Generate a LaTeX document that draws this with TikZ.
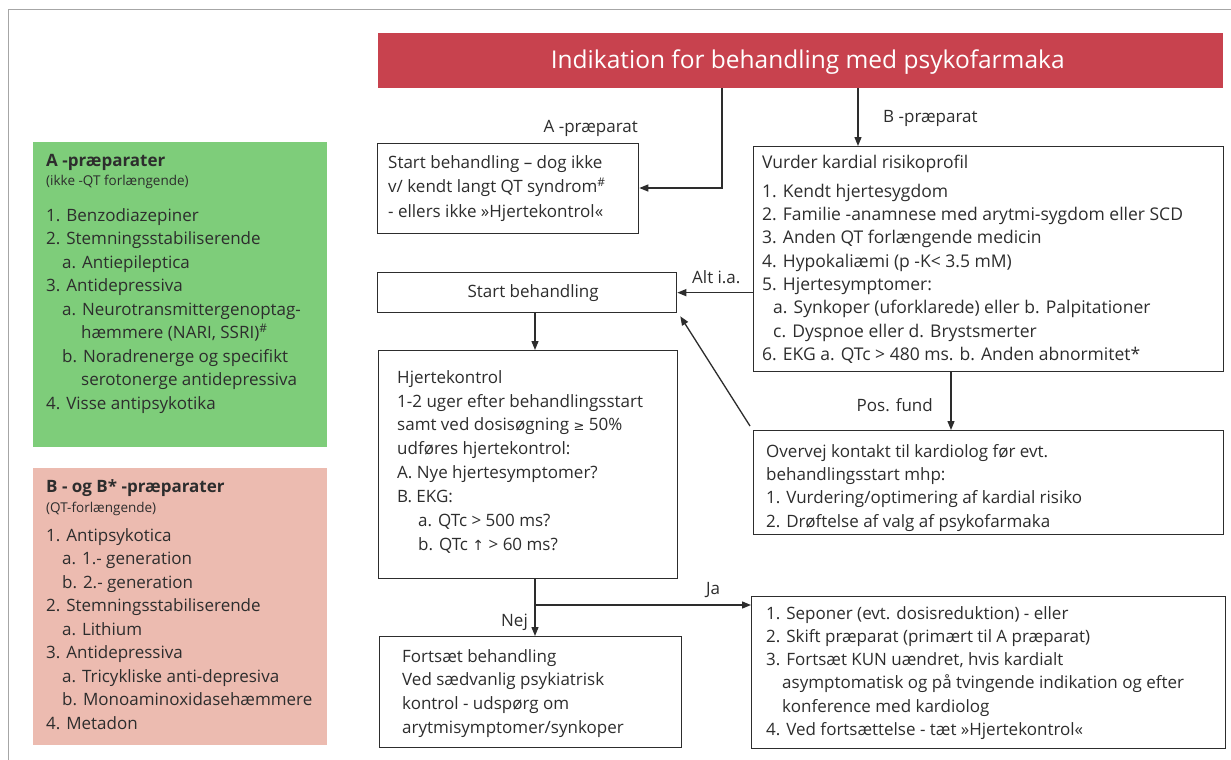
\documentclass[tikz,border=0pt]{standalone}
\usepackage{fontspec}
\setmainfont{Open Sans}
\newfontfamily\symf{DejaVu Sans}
\usetikzlibrary{arrows.meta,calc}
\definecolor{headred}{RGB}{200,66,78}
\definecolor{agreen}{RGB}{126,205,122}
\definecolor{bpink}{RGB}{236,187,176}
\definecolor{ink}{RGB}{45,45,45}
\begin{document}
\begin{tikzpicture}[x=1pt,y=-1pt,
  box/.style={draw=ink, line width=1.3pt, inner sep=0pt, anchor=north west},
  panel/.style={inner sep=0pt, anchor=north west},
  txt/.style={anchor=north west, inner sep=0pt, align=left, text=ink, font=\fontsize{17}{23.4}\selectfont},
  ptxt/.style={anchor=north west, inner sep=0pt, align=left, text=ink, font=\fontsize{17}{23.5}\selectfont},
  arr/.style={draw=ink, line width=1.3pt, -{Triangle[length=9pt,width=7pt]}},
  lbl/.style={inner sep=0pt, text=ink, font=\fontsize{17}{20}\selectfont}]
\useasboundingbox (0,0) rectangle (1231,760);
\fill[white] (0,0) rectangle (1231,760);
\draw[gray!70, line width=1pt] (8,760) -- (8,10) -- (1231,10);

% header
\node[panel, fill=headred, minimum width=845pt, minimum height=55pt] (head) at (378,33) {};
\node[text=white, inner sep=0pt, font=\fontsize{24.5}{28}\selectfont] (title) at ($(head.center)+(7,1)$) {Indikation for behandling med psykofarmaka};

% left panels
\node[panel, fill=agreen, minimum width=294pt, minimum height=305pt] (apanel) at (33,142) {};
\node[ptxt] (apaneltxt) at (46,154) {{\bfseries A -præparater}\\[-4.5pt]
{\fontsize{13.5}{15}\selectfont (ikke -QT forlængende)}\\[12.5pt]
1. Benzodiazepiner\\
2. Stemningsstabiliserende\\
\hspace*{16pt}a. Antiepileptica\\
3. Antidepressiva\\
\hspace*{16pt}a. Neurotransmittergenoptag-\\
\hspace*{35pt}hæmmere (NARI, SSRI)\textsuperscript{\#}\\
\hspace*{16pt}b. Noradrenerge og specifikt\\
\hspace*{35pt}serotonerge antidepressiva\\
4. Visse antipsykotika};

\node[panel, fill=bpink, minimum width=294pt, minimum height=277pt] (bpanel) at (33,468) {};
\node[ptxt] (bpaneltxt) at (46,479) {{\bfseries B - og B* -præparater}\\[-3.5pt]
{\fontsize{13.5}{15}\selectfont (QT-forlængende)}\\[5.5pt]
1. Antipsykotica\\
\hspace*{16pt}a. 1.- generation\\
\hspace*{16pt}b. 2.- generation\\
2. Stemningsstabiliserende\\
\hspace*{16pt}a. Lithium\\
3. Antidepressiva\\
\hspace*{16pt}a. Tricykliske anti-depresiva\\
\hspace*{16pt}b. Monoaminoxidasehæmmere\\
4. Metadon};

% flow boxes
\node[box, minimum width=261pt, minimum height=90pt] (abox) at (377,143) {};
\node[txt, font=\fontsize{17}{24.5}\selectfont] (aboxtxt) at (388,155) {Start behandling – dog ikke\\
v/ kendt langt QT syndrom\textsuperscript{\#}\\
- ellers ikke »Hjertekontrol«};

\node[box, minimum width=470pt, minimum height=225pt] (risk) at (753,146) {};
\node[txt, font=\fontsize{17.5}{23.3}\selectfont] (risktxt) at (762,155) {Vurder kardial risikoprofil\\[5.5pt]
1. Kendt hjertesygdom\\
2. Familie -anamnese med arytmi-sygdom eller SCD\\
3. Anden QT forlængende medicin\\
4. Hypokaliæmi (p -K< 3.5 mM)\\
5. Hjertesymptomer:\\
\hspace*{11pt}a. Synkoper (uforklarede) eller b. Palpitationer\\
\hspace*{11pt}c. Dyspnoe eller d. Brystsmerter\\
6. EKG a. QTc > 480 ms. b. Anden abnormitet*};

\node[box, minimum width=299pt, minimum height=40pt] (start) at (377,272) {};
\node[lbl] (starttxt) at ($(start.center)+(6,0)$) {Start behandling};

\node[box, minimum width=299pt, minimum height=228pt] (hjerte) at (378,350) {};
\node[txt, font=\fontsize{17}{23.9}\selectfont] (hjertetxt) at (397,370) {Hjertekontrol\\
1-2 uger efter behandlingsstart\\
samt ved dosisøgning {\symf\fontsize{13}{15}\selectfont ≥} 50\%\\
udføres hjertekontrol:\\
A. Nye hjertesymptomer?\\
B. EKG:\\
\hspace*{21pt}a. QTc > 500 ms?\\
\hspace*{21pt}b. QTc {\symf\fontsize{14}{15}\selectfont ↑} > 60 ms?};

\node[box, minimum width=470pt, minimum height=104pt] (overvej) at (753,430) {};
\node[txt, font=\fontsize{17}{23.3}\selectfont] (overvejtxt) at (766,444) {Overvej kontakt til kardiolog før evt.\\
behandlingsstart mhp:\\
1. Vurdering/optimering af kardial risiko\\
2. Drøftelse af valg af psykofarmaka};

\node[box, minimum width=302pt, minimum height=111pt] (fortsaet) at (379,636) {};
\node[txt, font=\fontsize{17}{23.7}\selectfont] (fortsaettxt) at (402,649) {Fortsæt behandling\\
Ved sædvanlig psykiatrisk\\
kontrol - udspørg om\\
arytmisymptomer/synkoper};

\node[box, minimum width=474pt, minimum height=152pt] (ja) at (751,596) {};
\node[txt, font=\fontsize{17}{23.1}\selectfont] (jatxt) at (766,606.5) {1. Seponer (evt. dosisreduktion) - eller\\
2. Skift præparat (primært til A præparat)\\
3. Fortsæt KUN uændret, hvis kardialt\\
\hspace*{16pt}asymptomatisk og på tvingende indikation og efter\\
\hspace*{16pt}konference med kardiolog\\
4. Ved fortsættelse - tæt »Hjertekontrol«};

% connectors
\coordinate (aturn) at (722,188);
\draw[arr] (head.south -| aturn) -- (aturn) -- (abox.east |- aturn);
\coordinate (bx) at (858,0);
\draw[arr] (head.south -| bx) -- (risk.north -| bx);
\draw[arr] (risk.west |- start.east) -- (start.east);
\coordinate (sx) at (535,0);
\draw[arr] (start.south -| sx) -- (hjerte.north -| sx);
\coordinate (px) at (951,0);
\draw[arr] (risk.south -| px) -- (overvej.north -| px);
\draw[arr] ($(overvej.north west)+(-3,-4)$) -- ($(start.south east)+(3,3)$);
\coordinate (branch) at (535,605);
\draw[arr] (hjerte.south -| sx) -- (fortsaet.north -| sx);
\draw[arr] (branch) -- (ja.west |- branch);

% labels
\node[lbl, anchor=east] (lA) at (638,128) {A -præparat};
\node[lbl, anchor=west] (lB) at (883,118) {B -præparat};
\node[lbl, anchor=west] (lAlt) at (692,277) {Alt i.a.};
\node[lbl, anchor=east] (lPos) at (933,405) {Pos. fund};
\node[lbl] (lJa) at (713,590) {Ja};
\node[lbl, anchor=east] (lNej) at (528,622) {Nej};
\end{tikzpicture}
\end{document}
